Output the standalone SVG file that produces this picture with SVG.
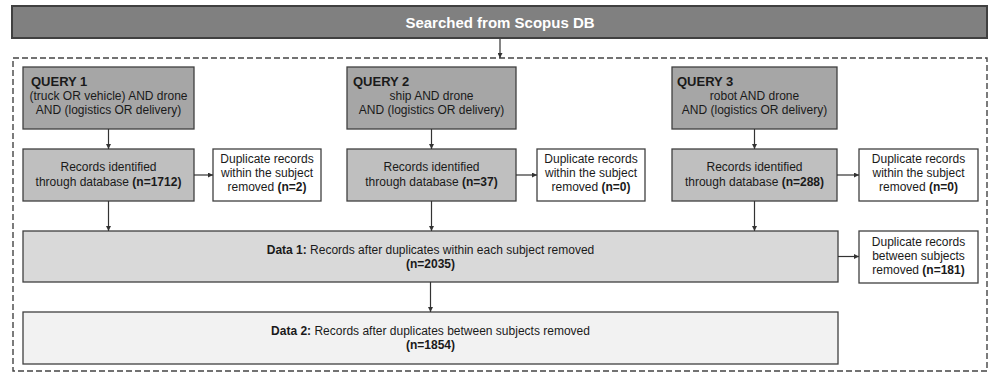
<svg xmlns="http://www.w3.org/2000/svg" width="989" height="372" viewBox="0 0 989 372">
<style>
  .box { stroke: #404040; stroke-width: 1.3; }
  .q { fill: #a6a6a6; }
  .r { fill: #bfbfbf; }
  .d { fill: #ffffff; }
  .d1 { fill: #d9d9d9; }
  .d2 { fill: #f2f2f2; }
  text { font-family: "Liberation Sans", Arial, sans-serif; font-size: 12px; fill: #1a1a1a; }
  .c { text-anchor: middle; }
  .b { font-weight: bold; }
  .title { font-size: 15px; font-weight: bold; fill: #ffffff; text-anchor: middle; }
  .qt { font-size: 13px; font-weight: bold; }
  .conn line { stroke: #333333; stroke-width: 1.2; fill: none; }
</style>
<defs>
  <marker id="arr" viewBox="0 0 10 10" refX="10" refY="5" markerWidth="5" markerHeight="5" orient="auto" markerUnits="userSpaceOnUse">
    <path d="M0,0 L10,5 L0,10 z" fill="#333333"/>
  </marker>
</defs>

<g id="search">
  <rect x="12" y="6" width="975" height="32" fill="#808080" stroke="#404040" stroke-width="2"/>
  <text class="title" x="500" y="27.5">Searched from Scopus DB</text>
</g>

<g id="frame">
  <rect x="13" y="58" width="974" height="313" fill="none" stroke="#444444" stroke-width="1.4" stroke-dasharray="6 3"/>
</g>

<g id="query1">
  <rect class="box q" x="23" y="67" width="171" height="62"/>
  <text class="qt" x="31" y="86">QUERY 1</text>
  <text class="c" x="108.5" y="100">(truck OR vehicle) AND drone</text>
  <text class="c" x="108.5" y="114">AND (logistics OR delivery)</text>
</g>
<g id="query2">
  <rect class="box q" x="347" y="67" width="169" height="62"/>
  <text class="qt" x="353" y="86">QUERY 2</text>
  <text class="c" x="431.5" y="100">ship AND drone</text>
  <text class="c" x="431.5" y="114">AND (logistics OR delivery)</text>
</g>
<g id="query3">
  <rect class="box q" x="672" y="67" width="165" height="62"/>
  <text class="qt" x="677" y="86">QUERY 3</text>
  <text class="c" x="754.5" y="100">robot AND drone</text>
  <text class="c" x="754.5" y="114">AND (logistics OR delivery)</text>
</g>

<g id="records1">
  <rect class="box r" x="23" y="149" width="171" height="52"/>
  <text class="c" x="108.5" y="171">Records identified</text>
  <text class="c" x="108.5" y="186">through database <tspan class="b">(n=1712)</tspan></text>
</g>
<g id="records2">
  <rect class="box r" x="347" y="149" width="169" height="52"/>
  <text class="c" x="431.5" y="171">Records identified</text>
  <text class="c" x="431.5" y="186">through database <tspan class="b">(n=37)</tspan></text>
</g>
<g id="records3">
  <rect class="box r" x="672" y="149" width="165" height="52"/>
  <text class="c" x="754.5" y="171">Records identified</text>
  <text class="c" x="754.5" y="186">through database <tspan class="b">(n=288)</tspan></text>
</g>

<g id="dup1">
  <rect class="box d" x="213" y="149" width="108" height="52"/>
  <text class="c" x="267" y="163">Duplicate records</text>
  <text class="c" x="267" y="177">within the subject</text>
  <text class="c" x="267" y="191">removed <tspan class="b">(n=2)</tspan></text>
</g>
<g id="dup2">
  <rect class="box d" x="537" y="149" width="108" height="52"/>
  <text class="c" x="591" y="163">Duplicate records</text>
  <text class="c" x="591" y="177">within the subject</text>
  <text class="c" x="591" y="191">removed <tspan class="b">(n=0)</tspan></text>
</g>
<g id="dup3">
  <rect class="box d" x="859" y="149" width="119" height="52"/>
  <text class="c" x="918.5" y="163">Duplicate records</text>
  <text class="c" x="918.5" y="177">within the subject</text>
  <text class="c" x="918.5" y="191">removed <tspan class="b">(n=0)</tspan></text>
</g>

<g id="data1">
  <rect class="box d1" x="23" y="231" width="815" height="51"/>
  <text class="c" x="430.5" y="254"><tspan class="b">Data 1:</tspan> Records after duplicates within each subject removed</text>
  <text class="c b" x="430.5" y="268">(n=2035)</text>
</g>
<g id="dup4">
  <rect class="box d" x="859" y="231" width="119" height="52"/>
  <text class="c" x="918.5" y="246">Duplicate records</text>
  <text class="c" x="918.5" y="260">between subjects</text>
  <text class="c" x="918.5" y="274">removed <tspan class="b">(n=181)</tspan></text>
</g>
<g id="data2">
  <rect class="box d2" x="23" y="312" width="815" height="52"/>
  <text class="c" x="430.5" y="335"><tspan class="b">Data 2:</tspan> Records after duplicates between subjects removed</text>
  <text class="c b" x="430.5" y="349">(n=1854)</text>
</g>

<g class="conn" id="connectors">
  <line x1="500" y1="39" x2="500" y2="58" marker-end="url(#arr)"/>
  <line x1="108.5" y1="129" x2="108.5" y2="149" marker-end="url(#arr)"/>
  <line x1="431.5" y1="129" x2="431.5" y2="149" marker-end="url(#arr)"/>
  <line x1="754.5" y1="129" x2="754.5" y2="149" marker-end="url(#arr)"/>
  <line x1="194" y1="175" x2="213" y2="175" marker-end="url(#arr)"/>
  <line x1="516" y1="175" x2="537" y2="175" marker-end="url(#arr)"/>
  <line x1="837" y1="175" x2="859" y2="175" marker-end="url(#arr)"/>
  <line x1="108.5" y1="201" x2="108.5" y2="231" marker-end="url(#arr)"/>
  <line x1="431.5" y1="201" x2="431.5" y2="231" marker-end="url(#arr)"/>
  <line x1="754.5" y1="201" x2="754.5" y2="231" marker-end="url(#arr)"/>
  <line x1="838" y1="256.5" x2="859" y2="256.5" marker-end="url(#arr)"/>
  <line x1="430.5" y1="282" x2="430.5" y2="312" marker-end="url(#arr)"/>
</g>
</svg>
